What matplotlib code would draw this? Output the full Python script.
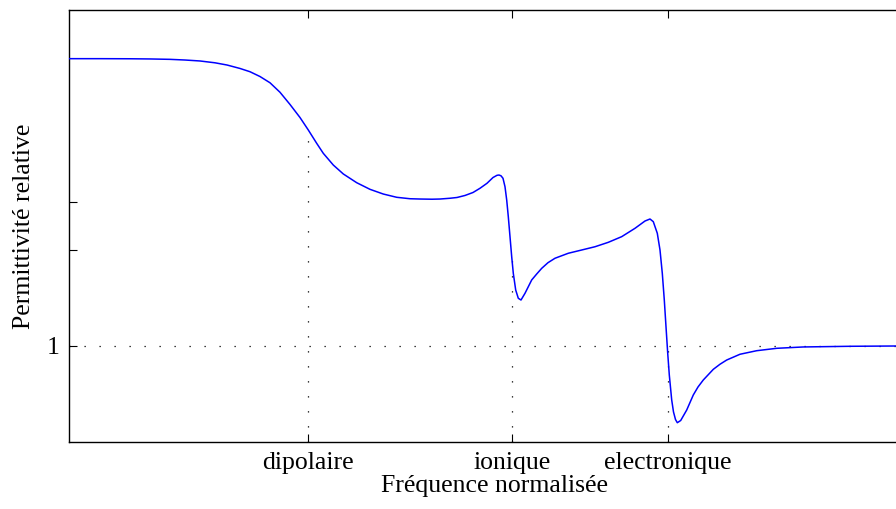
import numpy as np
import matplotlib
matplotlib.use('Agg')
import matplotlib.pyplot as plt

plt.rcParams['font.family'] = ['Liberation Serif', 'DejaVu Serif']

# curve (x: normalised log-frequency, y: relative permittivity)
freq = [0.00, 0.31, 0.61, 0.81, 1.01, 1.16, 1.31, 1.46, 1.58, 1.71,
        1.81, 1.91, 2.01, 2.11, 2.21, 2.31, 2.393, 2.477, 2.543, 2.643,
        2.743, 2.877, 3.01, 3.143, 3.277, 3.41, 3.51, 3.63, 3.71, 3.81,
        3.88, 3.96, 4.04, 4.11, 4.18, 4.24, 4.28, 4.30, 4.32, 4.34,
        4.36, 4.377, 4.393, 4.41, 4.427, 4.443, 4.467, 4.493, 4.52, 4.56,
        4.627, 4.677, 4.727, 4.79, 4.86, 4.993, 5.127, 5.26, 5.393, 5.527,
        5.66, 5.76, 5.81, 5.843, 5.883, 5.91, 5.933, 5.953, 5.97, 5.987,
        6.003, 6.027, 6.045, 6.065, 6.083, 6.117, 6.177, 6.243, 6.29, 6.343,
        6.443, 6.51, 6.577, 6.71, 6.877, 7.077, 7.343, 7.81, 8.27, 8.61]
perm = [3.993, 3.993, 3.992, 3.990, 3.986, 3.979, 3.969, 3.950, 3.927, 3.891,
        3.857, 3.807, 3.742, 3.643, 3.516, 3.380, 3.250, 3.111, 3.007, 2.885,
        2.792, 2.701, 2.632, 2.583, 2.549, 2.534, 2.531, 2.529, 2.531, 2.539,
        2.547, 2.568, 2.599, 2.643, 2.695, 2.755, 2.778, 2.781, 2.773, 2.747,
        2.659, 2.521, 2.347, 2.139, 1.930, 1.757, 1.583, 1.497, 1.479, 1.549,
        1.688, 1.750, 1.809, 1.868, 1.914, 1.966, 2.000, 2.034, 2.080, 2.139,
        2.226, 2.302, 2.323, 2.295, 2.174, 2.000, 1.757, 1.479, 1.201, 0.927,
        0.698, 0.438, 0.313, 0.234, 0.201, 0.224, 0.333, 0.490, 0.573, 0.646,
        0.757, 0.810, 0.854, 0.914, 0.951, 0.976, 0.990, 0.997, 1.000, 1.000]

res_pos = [2.39, 4.43, 5.985]
res_names = ['dipolaire', 'ionique', 'electronique']
ytick_vals = [1, 2, 2.5]
ytick_names = ['1', '', '']

fig = plt.figure(figsize=(8.96, 5.09), dpi=100)
# axes runs past the right edge (cropped like the original)
ax = fig.add_axes([69/896, 1 - 442/509, 851/896, 432/509])

ax.plot(freq, perm, color='#0000ff', lw=1.1, zorder=3)

dots = dict(color='k', lw=0.9, linestyle=(0, (1, 11)), zorder=2)
ax.axhline(1, **dots)
for xp in res_pos:
    ax.plot([xp, xp], [0, np.interp(xp, freq, perm)], **dots)

ax.set_xlim(0, 8.51)
ax.set_ylim(0, 4.5)
ax.set_xticks(res_pos)
ax.set_xticklabels(res_names)
ax.set_yticks(ytick_vals)
ax.set_yticklabels(ytick_names)
ax.tick_params(direction='in', length=6, width=0.8, top=True, right=True,
               labelsize=18.5, pad=7)
for s in ax.spines.values():
    s.set_linewidth(1.0)

ax.set_xlabel('Fréquence normalisée', fontsize=18.5, labelpad=1)
ax.set_ylabel('Permittivité relative', fontsize=18.5, labelpad=8)

fig.savefig('out.png', dpi=100)
